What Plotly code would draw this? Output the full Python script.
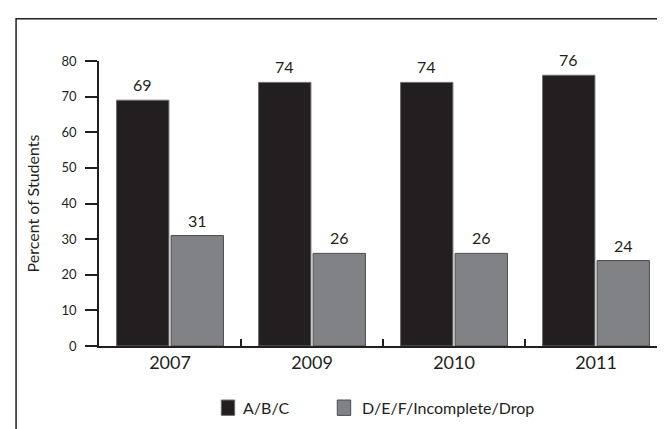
import plotly.graph_objects as go

years = ["2007", "2009", "2010", "2011"]
abc = [69, 74, 74, 76]
defid = [31, 26, 26, 24]
y_ticks = [0, 10, 20, 30, 40, 50, 60, 70, 80]
series_names = ["A/B/C", "D/E/F/Incomplete/Drop"]

FONT = "Lato, 'Open Sans', sans-serif"
W = 400
DARK = "#231f20"
GRAY = "#808285"
colors = [DARK, GRAY]
outlines = ["#6d6e71", "#4d4d4f"]

fig = go.Figure()
for name, vals, col, oc in zip(series_names, [abc, defid], colors, outlines):
    fig.add_trace(go.Bar(
        x=years, y=vals, name=name,
        marker=dict(color=col, line=dict(color=oc, width=1)),
    ))

# value labels above the bars (x given as category index)
annotations = []
for shift, vals in zip([-27.3, 27.3], [abc, defid]):
    for i, v in enumerate(vals):
        annotations.append(dict(
            x=i, y=v, xref="x", yref="y", text=str(v), showarrow=False,
            xshift=shift, yshift=4, yanchor="bottom",
            font=dict(family=FONT, size=16, color=DARK, weight=W)))

# legend (manual, to match placement)
leg_sq_x = [(0.2153, 0.2389), (0.4195, 0.4431)]
leg_txt_x = [0.2505, 0.4590]
shapes = [dict(type="path", xref="paper", yref="paper",
               path="M -0.146,-0.5 L -0.146,1.148 L 1.2,1.148",
               line=dict(color=DARK, width=1.5))]
for (x0, x1), tx, name, col, oc in zip(leg_sq_x, leg_txt_x, series_names, colors, outlines):
    shapes.append(dict(type="rect", xref="paper", yref="paper",
                       x0=x0, x1=x1, y0=-0.2435, y1=-0.1895,
                       fillcolor=col, line=dict(color=oc, width=1)))
    annotations.append(dict(x=tx, y=-0.2147, xref="paper", yref="paper",
                            text=name, showarrow=False, xanchor="left", yanchor="middle",
                            font=dict(family=FONT, size=16, color=DARK, weight=W)))

fig.update_layout(
    width=665, height=429,
    margin=dict(l=91, r=6, t=53, b=91),
    paper_bgcolor="white", plot_bgcolor="white",
    font=dict(family=FONT, color=DARK, weight=W),
    barmode="group", bargap=0.232, bargroupgap=0.04,
    showlegend=False,
    shapes=shapes,
    annotations=annotations,
)
fig.update_xaxes(
    type="category", categoryorder="array", categoryarray=years,
    range=[-0.5, len(years) - 0.5],
    showline=True, linecolor=DARK, linewidth=1.5,
    ticks="inside", tickson="boundaries", ticklen=7, tickcolor=DARK, tickwidth=1.5,
    tickfont=dict(family=FONT, size=18, color=DARK, weight=W), tickangle=0,
    showgrid=False, zeroline=False,
)
fig.update_yaxes(
    range=[0, 80], tickvals=y_ticks,
    showline=True, linecolor=DARK, linewidth=1.5,
    ticks="outside", ticklen=12, tickcolor=DARK, tickwidth=1.5,
    ticklabelstandoff=6,
    tickfont=dict(family=FONT, size=13, color=DARK, weight=W),
    showgrid=False, zeroline=False,
    title=dict(text="Percent of Students", font=dict(family=FONT, size=16, color=DARK, weight=W), standoff=18),
)

fig.write_html("out.html")
